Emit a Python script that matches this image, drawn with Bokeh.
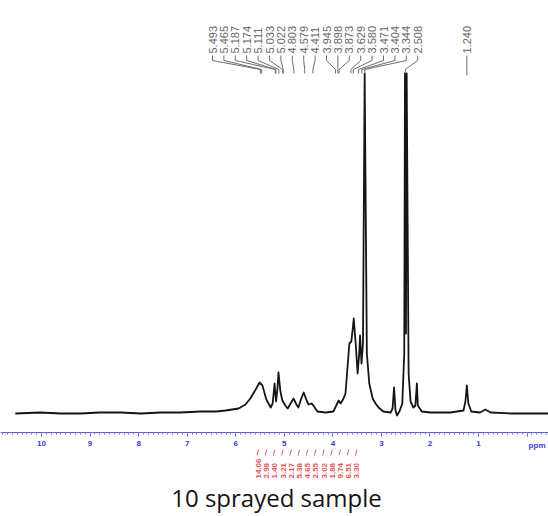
import math
from bokeh.plotting import figure
from bokeh.models import Range1d, LinearAxis, SingleIntervalTicker, ColumnDataSource, Label
from bokeh.core.properties import value
from bokeh.embed import file_html
from bokeh.resources import INLINE

# ---------------- data ----------------
spec_ppm = [10.54, 10.02, 9.60, 9.20, 8.80, 8.37, 7.95, 7.55, 7.15, 6.73, 6.40, 6.21, 5.94, 5.80, 5.70,
            5.59, 5.51, 5.45, 5.37, 5.28, 5.24, 5.20, 5.17, 5.14, 5.12, 5.08, 5.04, 4.98, 4.93,
            4.87, 4.81, 4.75, 4.71, 4.65, 4.60, 4.54, 4.50, 4.44, 4.40, 4.32, 4.15, 3.99, 3.93,
            3.88, 3.84, 3.78, 3.74, 3.70, 3.66, 3.62, 3.59, 3.57, 3.53, 3.49, 3.46, 3.44, 3.41,
            3.38, 3.345, 3.30, 3.25, 3.18, 3.12, 3.06, 2.96, 2.81, 2.77, 2.74, 2.71, 2.68,
            2.63, 2.57, 2.53, 2.515, 2.495, 2.48, 2.44, 2.40, 2.34, 2.30, 2.27, 2.25, 2.17, 1.99,
            1.58, 1.31, 1.27, 1.24, 1.21, 1.15, 0.97, 0.86, 0.75, 0.34, -0.44]
spec_int = [0, 1, 0, 0, 1, 1, 0, 1, 1, 2, 2, 3, 5, 9, 15,
            24, 31, 28, 14, 6, 10, 30, 12, 25, 41, 22, 13, 8, 5,
            10, 15, 9, 6, 15, 21, 13, 9, 10, 8, 2, 1, 2, 8,
            13, 10, 15, 20, 45, 70, 72, 85, 95, 70, 40, 58, 78, 50,
            70, 340, 60, 30, 15, 10, 6, 2, 1, 5, 26, 3, -2,
            2, 10, 60, 340, 80, 340, 40, 12, 6, 8, 30, 8, 2, 1,
            1, 3, 12, 28, 10, 2, 1, 4, 1, 0, 0]

peak_labels = ["5.493", "5.465", "5.187", "5.174", "5.111", "5.033", "5.022", "4.803", "4.579", "4.411",
               "3.945", "3.898", "3.873", "3.629", "3.580", "3.471", "3.404", "3.344", "2.508", "1.240"]
peak_ppm = [5.493, 5.465, 5.187, 5.174, 5.111, 5.033, 5.022, 4.803, 4.579, 4.411,
            3.945, 3.898, 3.873, 3.629, 3.580, 3.471, 3.404, 3.344, 2.508, 1.240]

integral_labels = ["14.06", "2.98", "1.40", "3.21", "2.17", "5.38", "4.65",
                   "2.55", "3.02", "1.88", "9.74", "6.51", "3.30"]

x_ticks_major = 1
title_text = "10 sprayed sample"

# ---------------- layout helpers (picture pixel -> data) ----------------
PX_PER_PPM = 48.56
def rx(X):  # picture x pixel -> ppm
    return 10 - (X - 41) / PX_PER_PPM
def ry(Y):  # picture y pixel -> intensity
    return 413 - Y

W, H = 548, 516
p = figure(width=W, height=H, output_backend="svg", toolbar_location=None,
           x_axis_type=None, y_axis_type=None,
           x_range=Range1d(rx(0), rx(W)), y_range=Range1d(ry(H), ry(0)),
           min_border_left=0, min_border_right=0, min_border_top=0, min_border_bottom=0)
p.outline_line_color = None
p.background_fill_color = "white"

# spectrum
p.line(spec_ppm, spec_int, line_color="#151515", line_width=1.8, line_join="round")

# axis
ax = LinearAxis(fixed_location=ry(432),
                ticker=SingleIntervalTicker(interval=x_ticks_major, num_minor_ticks=10))
ax.axis_line_color = "#5a5ae8"
ax.axis_line_width = 1.2
ax.major_tick_line_color = "#5a5ae8"
ax.minor_tick_line_color = "#7a7af0"
ax.major_tick_in = 0
ax.major_tick_out = 4
ax.minor_tick_in = 0
ax.minor_tick_out = 2
ax.major_label_text_font_size = "8px"
ax.major_label_text_font_style = "bold"
ax.major_label_text_color = "#3a3ad4"
ax.major_label_text_font = "Liberation Sans"
ax.major_label_standoff = 4
ax.major_label_overrides = {0: ""}
p.add_layout(ax, "below")

p.add_layout(Label(x=rx(545), y=ry(445), text="ppm", text_font_size="8px",
                   text_font_style="bold", text_color="#3a3ad4", text_font="Liberation Sans",
                   text_align="right", text_baseline="middle"))

# peak labels + leader lines
lab_x, lab_y = [], []
xs, ys = [], []
for i, (t, pp) in enumerate(zip(peak_labels, peak_ppm)):
    if i < 19:
        X = 212 + i * 11.4
        xl = rx(X)
        lab_x.append(xl)
        xs.append([xl, xl, pp, pp])
        ys.append([ry(55), ry(60), ry(69), ry(73)])
    else:
        xl = pp
        lab_x.append(xl)
        xs.append([xl, xl])
        ys.append([ry(55), ry(75)])
    lab_y.append(ry(53))
p.multi_line(xs, ys, line_color="#6e6e6e", line_width=1)
src = ColumnDataSource(dict(x=lab_x, y=lab_y, t=peak_labels))
p.text("x", "y", text="t", source=src, angle=math.pi / 2, text_align="left",
       text_baseline="middle", text_font=value("Liberation Sans"), text_font_size="11px",
       text_color="#666666")

# integral labels
ix = [rx(258 + i * 8.2) for i in range(len(integral_labels))]
iy = [ry(478)] * len(integral_labels)
isrc = ColumnDataSource(dict(x=ix, y=iy, t=integral_labels))
p.segment(x0=ix, y0=[ry(449)] * len(ix), x1=[x + 0.03 for x in ix], y1=[ry(455)] * len(ix),
          line_color="#e86060", line_width=1)
p.text("x", "y", text="t", source=isrc, angle=math.pi / 2, text_align="left",
       text_baseline="middle", text_font=value("Liberation Sans"), text_font_size="8px",
       text_font_style="bold", text_color="#e85858")

# caption
p.text(x=[rx(276)], y=[ry(497)], text=[title_text], text_align="center",
       text_baseline="alphabetic", text_font=value("Open Sans"), text_font_size="24px",
       text_color="#141414")

open("out.html", "w").write(file_html(p, INLINE))
